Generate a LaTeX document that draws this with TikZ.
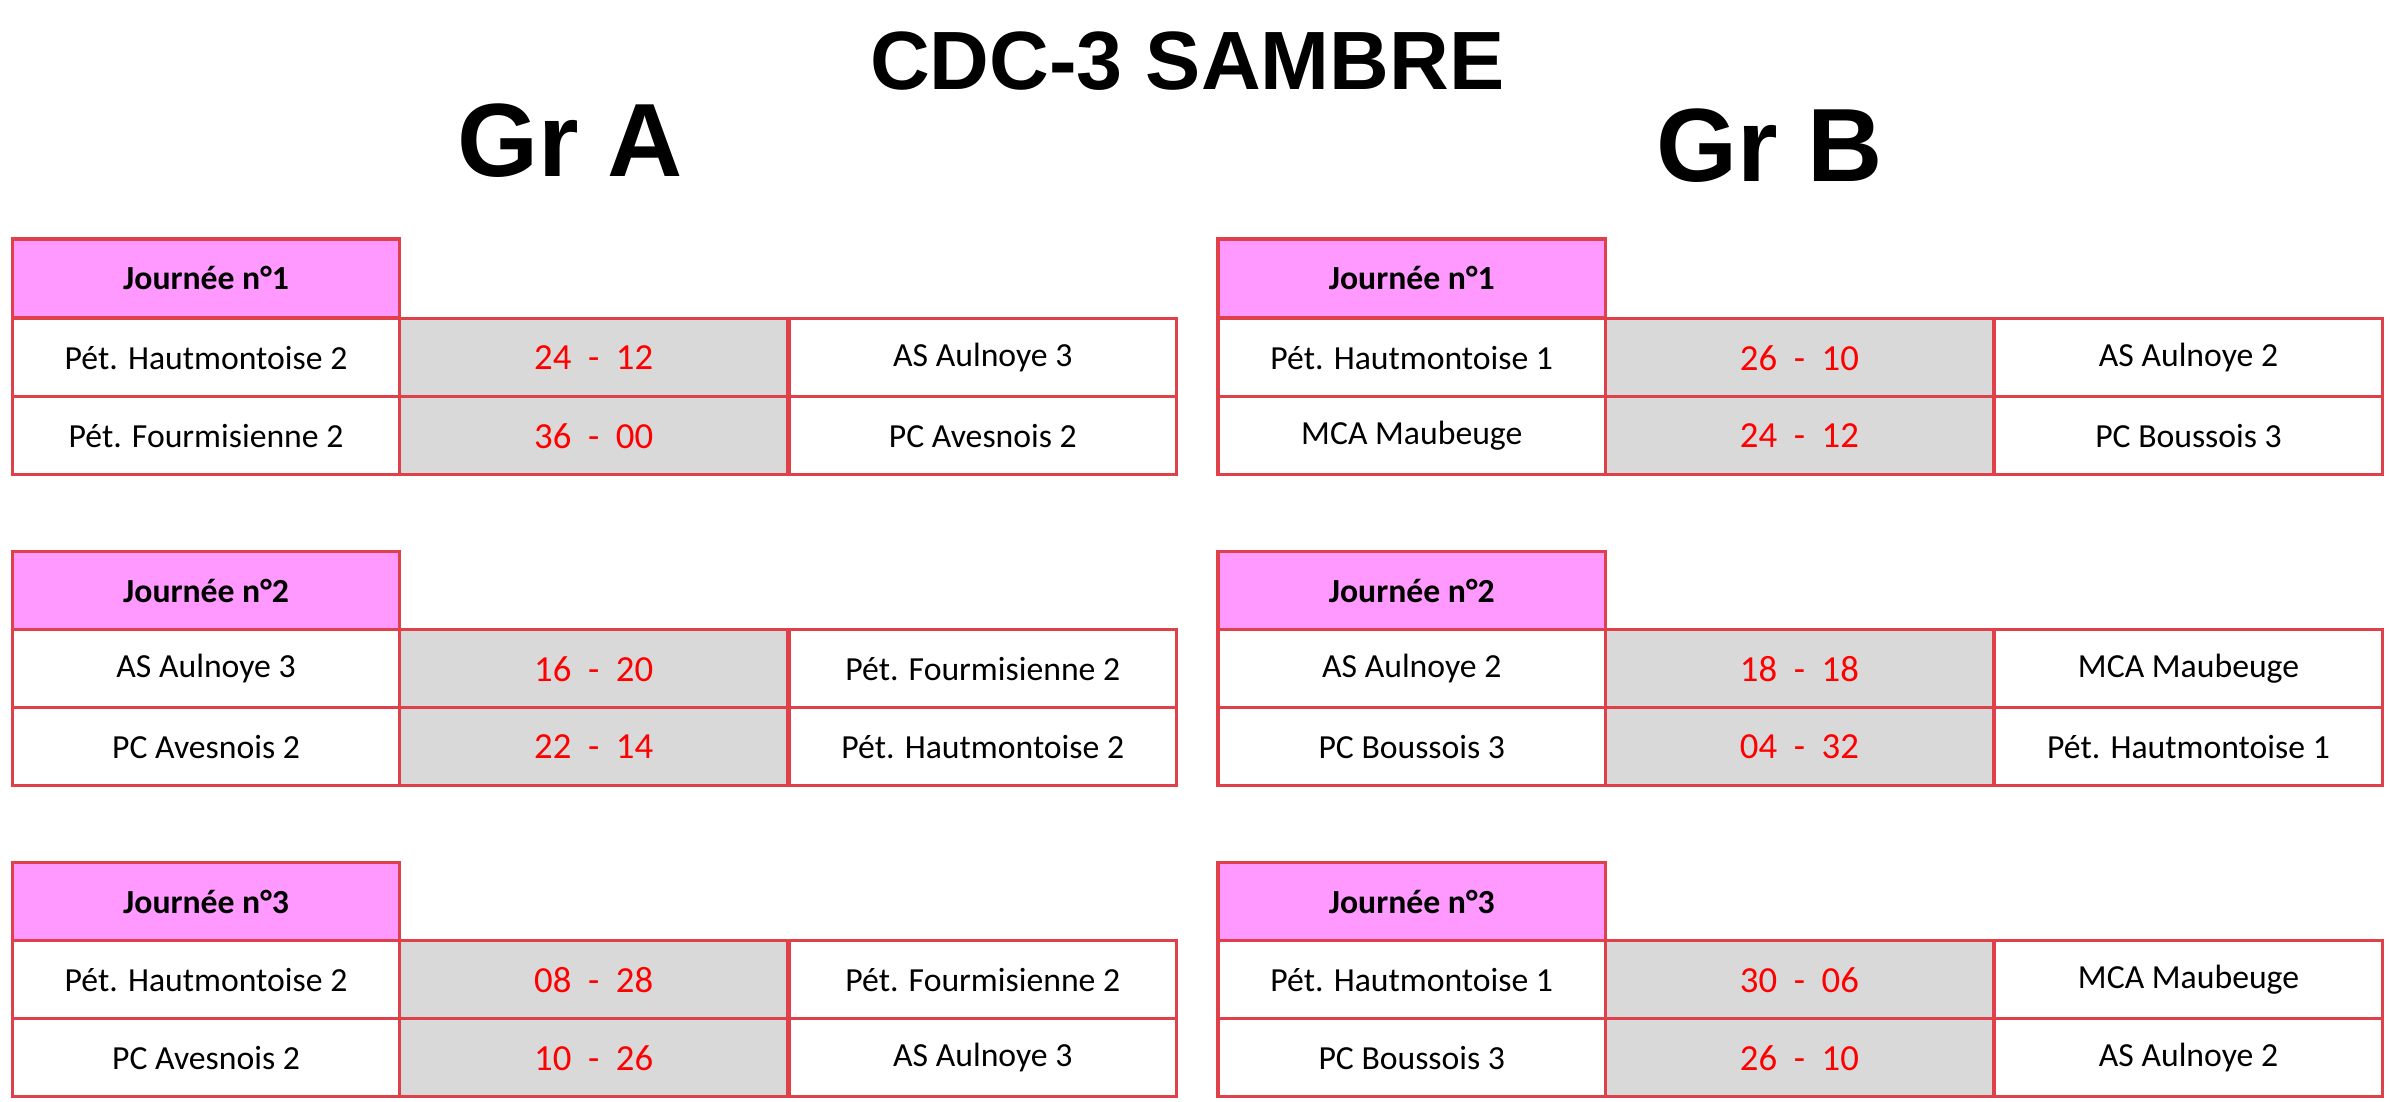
\documentclass[tikz,border=0pt]{standalone}
\usepackage{fontspec}
\setmainfont{Carlito}
\newfontfamily\titlefont{Liberation Sans}
\usetikzlibrary{positioning}
\definecolor{cellred}{HTML}{E0404A}
\definecolor{headpink}{HTML}{FF99FF}
\definecolor{scoregray}{HTML}{D9D9D9}
\tikzset{cell/.style =
   {rectangle,
    draw=cellred,
    line width=1pt,
    anchor=north west,
    inner sep=0pt,
    outer sep=0pt,
    minimum width=126.5pt,
    minimum height=25.5pt,
    font=\fontsize{11}{13}\selectfont}}
\tikzset{head/.style =
   {cell,
    fill=headpink,
    font=\fontsize{11}{13}\selectfont\bfseries}}
\tikzset{score/.style =
   {cell,
    fill=scoregray,
    text=red,
    font=\fontsize{12}{14}\selectfont}}
\tikzset{grtitle/.style =
   {font=\titlefont\fontsize{34}{38}\selectfont\bfseries}}
% one match line: name, x, y, home, score, away
\newcommand\matchrow[6]{%
    \node [cell] (#1-h) at (#2,#3) {#4};
    \node [score] (#1-s) at (#2+253,#3) {#5};
    \node [cell] (#1-a) at (#2+507,#3) {#6};}
% day header: name, x, y, number
\newcommand\dayhead[4]{%
    \node [head] (#1) at (#2,#3) {Journée n°#4};}

\begin{document}
\begin{tikzpicture}[x=0.5pt,y=-0.5pt]

    \useasboundingbox (0,0) rectangle (1560,719);

    \node [font=\titlefont\fontsize{27}{30}\selectfont\bfseries] (title) at (775,40) {CDC-3 SAMBRE};
    \node [grtitle] (grA) at (372,92) {Gr A};
    \node [grtitle] (grB) at (1155,95) {Gr B};

    % Gr A
    \dayhead{a1}{8}{156}{1}
    \matchrow{a1m1}{8}{208}{Pét. Hautmontoise 2}{24\ \ -\ \ 12}{AS Aulnoye 3}
    \matchrow{a1m2}{8}{259}{Pét. Fourmisienne 2}{36\ \ -\ \ 00}{PC Avesnois 2}

    \dayhead{a2}{8}{360}{2}
    \matchrow{a2m1}{8}{411}{AS Aulnoye 3}{16\ \ -\ \ 20}{Pét. Fourmisienne 2}
    \matchrow{a2m2}{8}{462}{PC Avesnois 2}{22\ \ -\ \ 14}{Pét. Hautmontoise 2}

    \dayhead{a3}{8}{563}{3}
    \matchrow{a3m1}{8}{614}{Pét. Hautmontoise 2}{08\ \ -\ \ 28}{Pét. Fourmisienne 2}
    \matchrow{a3m2}{8}{665}{PC Avesnois 2}{10\ \ -\ \ 26}{AS Aulnoye 3}

    % Gr B
    \dayhead{b1}{795}{156}{1}
    \matchrow{b1m1}{795}{208}{Pét. Hautmontoise 1}{26\ \ -\ \ 10}{AS Aulnoye 2}
    \matchrow{b1m2}{795}{259}{MCA Maubeuge}{24\ \ -\ \ 12}{PC Boussois 3}

    \dayhead{b2}{795}{360}{2}
    \matchrow{b2m1}{795}{411}{AS Aulnoye 2}{18\ \ -\ \ 18}{MCA Maubeuge}
    \matchrow{b2m2}{795}{462}{PC Boussois 3}{04\ \ -\ \ 32}{Pét. Hautmontoise 1}

    \dayhead{b3}{795}{563}{3}
    \matchrow{b3m1}{795}{614}{Pét. Hautmontoise 1}{30\ \ -\ \ 06}{MCA Maubeuge}
    \matchrow{b3m2}{795}{665}{PC Boussois 3}{26\ \ -\ \ 10}{AS Aulnoye 2}

\end{tikzpicture}
\end{document}
